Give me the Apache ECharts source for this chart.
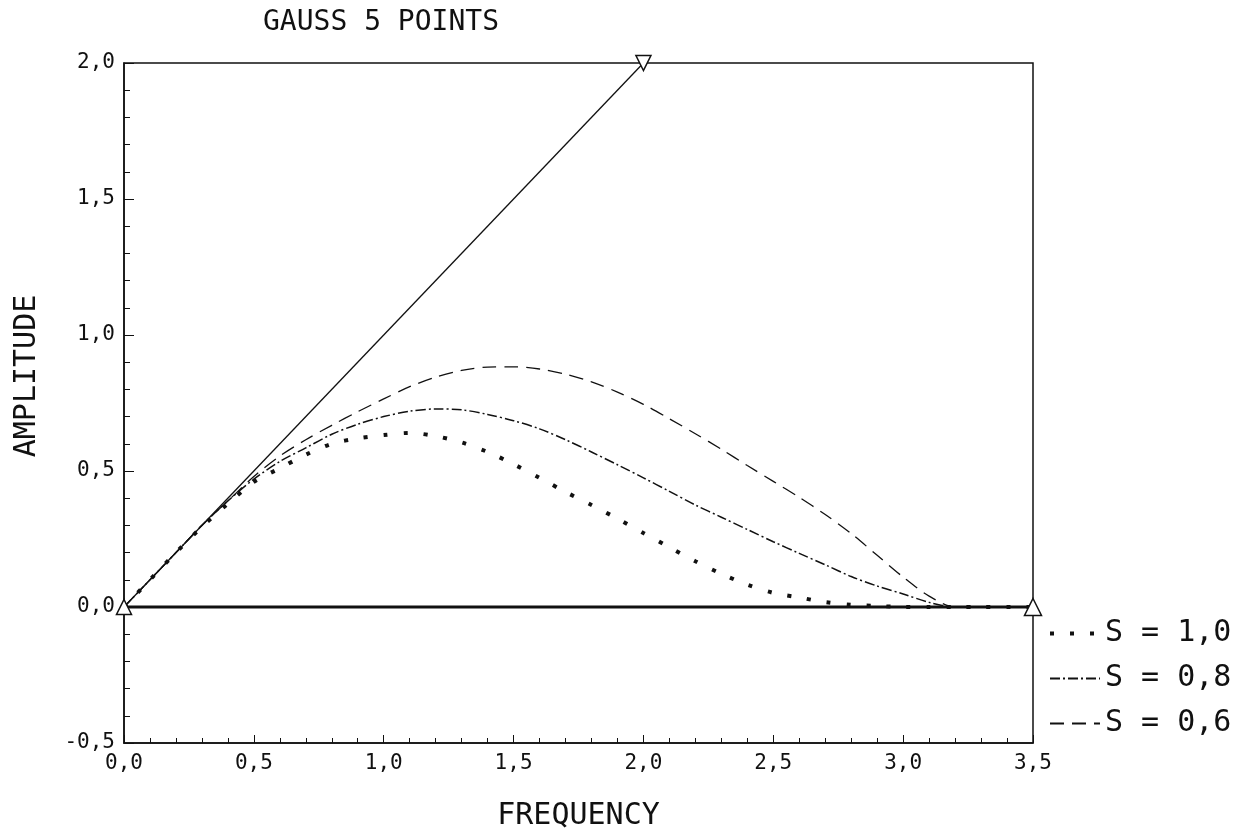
<!DOCTYPE html>
<html>
<head>
<meta charset="utf-8">
<script src="https://cdn.jsdelivr.net/npm/echarts@6/dist/echarts.min.js"></script>
<style>
html,body{margin:0;padding:0;background:#fff;}
#chart{width:1248px;height:840px;}
</style>
</head>
<body>
<div id="chart"></div>
<script>
// frequency grid
var freq = [0.0,0.1,0.2,0.3,0.4,0.5,0.6,0.7,0.8,0.9,1.0,1.1,1.2,1.3,1.4,1.5,1.6,1.7,
            1.8,1.9,2.0,2.1,2.2,2.3,2.4,2.5,2.6,2.7,2.8,2.9,3.0,3.1,3.2,3.3,3.4,3.5];
// amplitude, S = 1.0 (dotted)
var s10 = [0,0.10,0.20,0.295,0.38,0.46,0.51,0.56,0.60,0.62,0.632,0.64,0.628,0.605,0.57,0.525,0.475,0.423,
           0.375,0.325,0.272,0.22,0.168,0.122,0.082,0.052,0.035,0.018,0.008,0.004,0,0,0,0,0,0];
// amplitude, S = 0.8 (dash-dot)
var s08 = [0,0.10,0.20,0.30,0.39,0.47,0.535,0.585,0.635,0.672,0.70,0.72,0.728,0.725,0.708,0.685,0.655,0.615,
           0.57,0.523,0.475,0.425,0.375,0.33,0.285,0.24,0.197,0.155,0.112,0.077,0.048,0.017,0,0,0,0];
// amplitude, S = 0.6 (dashed)
var s06 = [0,0.10,0.20,0.30,0.39,0.48,0.555,0.615,0.668,0.718,0.765,0.81,0.845,0.87,0.882,0.883,0.875,0.856,
           0.828,0.79,0.745,0.692,0.637,0.58,0.52,0.462,0.403,0.34,0.27,0.19,0.11,0.04,0,0,0,0];
// reference lines
var diagX = [0, 2.0];
var diagY = [0, 2.0];
var zeroX = [0, 3.5];
var zeroY = [0, 0];

var seriesNames = ['S = 1,0', 'S = 0,8', 'S = 0,6'];
var font = 'DejaVu Sans Mono';
var ink = '#111';

function pairs(xs, ys) {
	var out = [];
	for (var i = 0; i < xs.length; i++) out.push([xs[i], ys[i]]);
	return out;
}
function comma(v) {
	return v.toFixed(1).replace('.', ',');
}

var myChart = echarts.init(document.getElementById('chart'));
var triStyle = {color: '#fff', borderColor: ink, borderWidth: 1.5};

var option = {
	backgroundColor: '#fff',
	animation: false,
	title: {
		text: 'GAUSS 5 POINTS',
		left: 258,
		top: 4,
		textStyle: {fontFamily: font, fontSize: 28, fontWeight: 'normal', color: ink}
	},
	legend: {
		orient: 'vertical',
		left: 1043,
		top: 612,
		itemWidth: 50,
		itemHeight: 14,
		itemGap: 12,
		data: [
			{name: seriesNames[0], lineStyle: {width: 4}},
			{name: seriesNames[1]},
			{name: seriesNames[2]}
		],
		itemStyle: {opacity: 0},
		textStyle: {fontFamily: font, fontSize: 30, lineHeight: 33, color: ink}
	},
	grid: {
		left: 124,
		right: 215,
		top: 63,
		bottom: 97,
		show: true,
		borderColor: ink,
		borderWidth: 1.5
	},
	xAxis: {
		type: 'value',
		min: 0,
		max: 3.5,
		interval: 0.5,
		name: 'FREQUENCY',
		nameLocation: 'middle',
		nameGap: 58,
		nameTextStyle: {fontFamily: font, fontSize: 30, color: ink},
		axisLine: {onZero: false, lineStyle: {color: ink, width: 1.5}},
		axisTick: {inside: true, length: 8, lineStyle: {color: ink}},
		minorTick: {show: true, splitNumber: 5, length: 5, lineStyle: {color: ink}},
		splitLine: {show: false},
		axisLabel: {
			margin: 10,
			formatter: comma,
			fontFamily: font, fontSize: 21, color: ink
		}
	},
	yAxis: {
		type: 'value',
		min: -0.5,
		max: 2.0,
		interval: 0.5,
		name: 'AMPLITUDE',
		nameLocation: 'middle',
		nameGap: 82,
		nameTextStyle: {fontFamily: font, fontSize: 30, color: ink, padding: [0, 0, 0, 54]},
		axisLine: {onZero: false, lineStyle: {color: ink, width: 1.5}},
		axisTick: {inside: true, length: 10, lineStyle: {color: ink}},
		minorTick: {show: true, splitNumber: 5, length: 6, lineStyle: {color: ink}},
		splitLine: {show: false},
		axisLabel: {
			margin: 9,
			formatter: comma,
			fontFamily: font, fontSize: 21, color: ink
		}
	},
	series: [
		{
			name: 'zero',
			type: 'line',
			data: pairs(zeroX, zeroY).map(function (p, i) {
				return {value: p, symbol: i === 1 ? 'triangle' : 'none', symbolSize: 17};
			}),
			lineStyle: {color: ink, width: 3},
			itemStyle: triStyle,
			z: 3
		},
		{
			name: 'diag',
			type: 'line',
			data: pairs(diagX, diagY).map(function (p, i) {
				return {value: p, symbol: 'triangle', symbolSize: 15, symbolRotate: i === 1 ? 180 : 0};
			}),
			lineStyle: {color: ink, width: 1.3},
			itemStyle: triStyle,
			z: 4
		},
		{
			name: seriesNames[0],
			type: 'line',
			data: pairs(freq, s10),
			symbol: 'none',
			smooth: 0.3,
			itemStyle: {color: ink},
			lineStyle: {color: ink, width: 4, type: [4, 16], cap: 'butt'}
		},
		{
			name: seriesNames[1],
			type: 'line',
			data: pairs(freq, s08),
			symbol: 'none',
			smooth: 0.3,
			itemStyle: {color: ink},
			lineStyle: {color: ink, width: 1.5, type: [10, 3, 2, 3]}
		},
		{
			name: seriesNames[2],
			type: 'line',
			data: pairs(freq, s06),
			symbol: 'none',
			smooth: 0.3,
			itemStyle: {color: ink},
			lineStyle: {color: ink, width: 1.3, type: [14, 8]}
		}
	]
};

myChart.setOption(option);
window.addEventListener('resize', function () {
	myChart.resize();
});
</script>
</body>
</html>
